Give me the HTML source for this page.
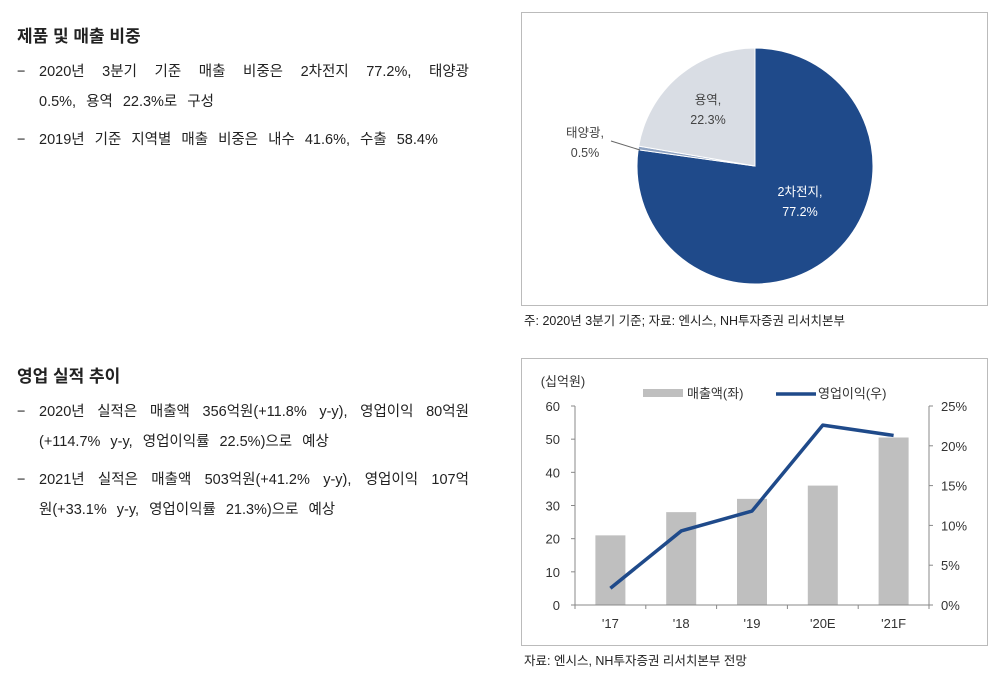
<!DOCTYPE html>
<html><head><meta charset="utf-8">
<style>
body{margin:0;width:998px;height:674px;background:#fff;font-family:"Liberation Sans","Noto Sans CJK KR",sans-serif;color:#222;position:relative;overflow:hidden}
.t{position:absolute;left:17px;font-weight:bold;font-size:17px}
.b{position:absolute;left:17px;width:452px;font-size:14.5px;line-height:30px}
.b .d{position:absolute;left:0}
.b .x{margin-left:22px;display:block;white-space:nowrap;word-spacing:6px}
.b .j{display:flex;justify-content:space-between;word-spacing:0}
.box{position:absolute;border:1px solid #bbb}
.note{position:absolute;font-size:12.5px;color:#222}
</style></head><body>
<div class="t" style="top:22px">제품 및 매출 비중</div>
<div class="b" style="top:57px"><span class="d">−</span><span class="x j"><span>2020년</span><span>3분기</span><span>기준</span><span>매출</span><span>비중은</span><span>2차전지</span><span>77.2%,</span><span>태양광</span></span><span class="x">0.5%, 용역 22.3%로 구성</span></div>
<div class="b" style="top:125px"><span class="d">−</span><span class="x">2019년 기준 지역별 매출 비중은 내수 41.6%, 수출 58.4%</span></div>
<div class="t" style="top:362px">영업 실적 추이</div>
<div class="b" style="top:397px"><span class="d">−</span><span class="x j"><span>2020년</span><span>실적은</span><span>매출액</span><span>356억원(+11.8%</span><span>y-y),</span><span>영업이익</span><span>80억원</span></span><span class="x">(+114.7% y-y, 영업이익률 22.5%)으로 예상</span></div>
<div class="b" style="top:465px"><span class="d">−</span><span class="x j"><span>2021년</span><span>실적은</span><span>매출액</span><span>503억원(+41.2%</span><span>y-y),</span><span>영업이익</span><span>107억</span></span><span class="x">원(+33.1% y-y, 영업이익률 21.3%)으로 예상</span></div>

<div class="box" style="left:521px;top:12px;width:465px;height:292px"></div>
<svg id="pie" style="position:absolute;left:0;top:0" width="998" height="674"></svg>
<div class="note" style="left:524px;top:310px">주: 2020년 3분기 기준; 자료: 엔시스, NH투자증권 리서치본부</div>

<div class="box" style="left:521px;top:358px;width:465px;height:286px"></div>
<svg id="bar" style="position:absolute;left:0;top:0" width="998" height="674"></svg>
<div class="note" style="left:524px;top:650px">자료: 엔시스, NH투자증권 리서치본부 전망</div>

<script>
const pieLabels=["2차전지","태양광","용역"];
const pieValues=[77.2,0.5,22.3];
const pieColors=["#1f4a8a","#8fa3c2","#d9dde4"];
const categories=["'17","'18","'19","'20E","'21F"];
const sales=[21,28,32,36,50.5];
const margin=[2.1,9.3,11.8,22.6,21.3];
const leftTicks=[0,10,20,30,40,50,60];
const rightTicks=[0,5,10,15,20,25];
const NS="http://www.w3.org/2000/svg";
function mk(p,t,a){const e=document.createElementNS(NS,t);for(const k in a)e.setAttribute(k,a[k]);p.appendChild(e);return e;}
const pie=document.getElementById('pie');
const cx=755,cy=166,r=118;let acc=0;const tot=pieValues.reduce((a,b)=>a+b,0);
pieValues.forEach((v,i)=>{const a0=acc/tot*2*Math.PI;acc+=v;const a1=acc/tot*2*Math.PI;
const x0=cx+r*Math.sin(a0),y0=cy-r*Math.cos(a0),x1=cx+r*Math.sin(a1),y1=cy-r*Math.cos(a1);
const p=mk(pie,'path',{d:`M${cx},${cy}L${x0},${y0}A${r},${r} 0 ${a1-a0>Math.PI?1:0} 1 ${x1},${y1}Z`,fill:pieColors[i],stroke:'#fff','stroke-width':1});

});
function lbl(svg,x,y,txt,fill,anchor,size){const t=mk(svg,'text',{x:x,y:y,fill:fill,'font-size':size||12.5,'text-anchor':anchor||'middle','font-family':'Liberation Sans, Noto Sans CJK KR, sans-serif'});t.textContent=txt;return t;}
let t;
t=lbl(pie,800,196,pieLabels[0]+',','#fff');
t=lbl(pie,800,216,pieValues[0]+'%','#fff');
t=lbl(pie,708,104,pieLabels[2]+',','#444');
t=lbl(pie,708,124,pieValues[2]+'%','#444');
t=lbl(pie,585,137,pieLabels[1]+',','#444');
t=lbl(pie,585,157,pieValues[1]+'%','#444');
mk(pie,'line',{x1:611,y1:141,x2:640,y2:150,stroke:'#666','stroke-width':1});
const bar=document.getElementById('bar');
const X0=575,X1=929,Y0=605,Y1=406;
const band=(X1-X0)/categories.length;
const xc=i=>X0+band*(i+0.5);
const yl=v=>Y0-(v/60)*(Y0-Y1);
const yr=v=>Y0-(v/25)*(Y0-Y1);
sales.forEach((v,i)=>{const b=mk(bar,'rect',{x:xc(i)-15,y:yl(v),width:30,height:Y0-yl(v),fill:'#bfbfbf'});

});
mk(bar,'line',{x1:X0,y1:Y1,x2:X0,y2:Y0,stroke:'#888'});
mk(bar,'line',{x1:X1,y1:Y1,x2:X1,y2:Y0,stroke:'#888'});
mk(bar,'line',{x1:X0,y1:Y0,x2:X1,y2:Y0,stroke:'#888'});
leftTicks.forEach(v=>{mk(bar,'line',{x1:X0-4,y1:yl(v),x2:X0,y2:yl(v),stroke:'#888'});
const e=lbl(bar,X0-15,yl(v)+5,String(v),'#333','end',13);});
rightTicks.forEach(v=>{mk(bar,'line',{x1:X1,y1:yr(v),x2:X1+4,y2:yr(v),stroke:'#888'});
const e=lbl(bar,X1+12,yr(v)+5,v+'%','#333','start',13);});
for(let i=0;i<=categories.length;i++)mk(bar,'line',{x1:X0+band*i,y1:Y0,x2:X0+band*i,y2:Y0+4,stroke:'#888'});
categories.forEach((c,i)=>{const e=lbl(bar,xc(i),Y0+23,c,'#333','middle',13);});
const pl=mk(bar,'polyline',{points:margin.map((v,i)=>xc(i)+','+yr(v)).join(' '),fill:'none',stroke:'#1f4a8a','stroke-width':3.5,'stroke-linejoin':'round'});


t=lbl(bar,563,386,'(십억원)','#333','middle',13);
mk(bar,'rect',{x:643,y:389,width:40,height:8,fill:'#bfbfbf'});
t=lbl(bar,687,398,'매출액(좌)','#333','start',13);
mk(bar,'line',{x1:776,y1:394,x2:816,y2:394,stroke:'#1f4a8a','stroke-width':3.5});
t=lbl(bar,818,398,'영업이익(우)','#333','start',13);
</script>
</body></html>
